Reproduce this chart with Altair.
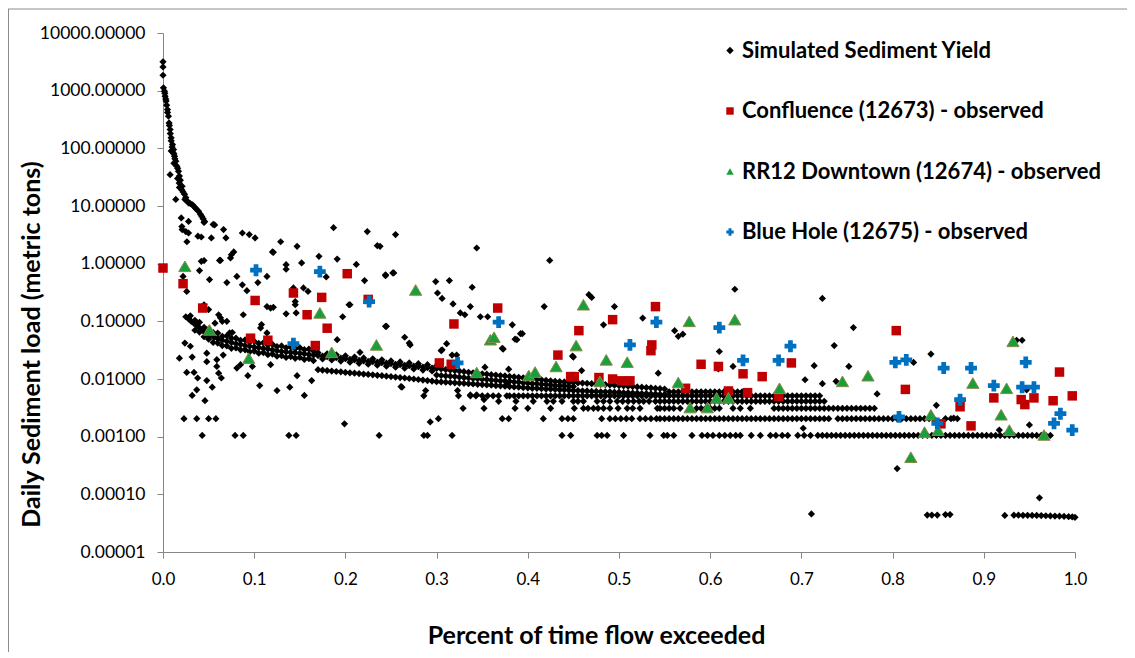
import altair as alt
import pandas as pd

# ---------------- series names / styles ----------------
series_names = ["Simulated Sediment Yield", "Confluence (12673) - observed",
                "RR12 Downtown (12674) - observed", "Blue Hole (12675) - observed"]
fill_colors = ["#000000", "#C00000", "#16A03C", "#0070C0"]
stroke_colors = [None, None, "#8A8A48", None]
shapes = ["diamond", "square", "triangle-up", "cross"]
sizes = [52, 90, 150, 140]

x_ticks = [0.0, 0.1, 0.2, 0.3, 0.4, 0.5, 0.6, 0.7, 0.8, 0.9, 1.0]
y_ticks = [0.00001, 0.0001, 0.001, 0.01, 0.1, 1, 10, 100, 1000, 10000]

# ---------------- simulated sediment yield ----------------
sim_head = [(0.000, 3170), (0.000, 2580), (0.000, 1850), (0.0005, 1120), (0.0016, 980),
            (0.002, 900), (0.0023, 800), (0.003, 720), (0.0034, 660), (0.004, 560),
            (0.0049, 470), (0.005, 420), (0.006, 360), (0.0067, 276), (0.007, 250),
            (0.0078, 212), (0.008, 180), (0.0089, 152), (0.009, 135), (0.009, 90),
            (0.010, 105), (0.0104, 116), (0.011, 85), (0.0115, 95), (0.012, 80),
            (0.012, 55), (0.0126, 73), (0.013, 66), (0.014, 60), (0.0152, 49),
            (0.016, 45), (0.016, 30), (0.017, 40), (0.0078, 35), (0.018, 33),
            (0.0178, 25), (0.018, 21), (0.019, 28), (0.0207, 19), (0.021, 22),
            (0.022, 17.5), (0.0236, 16), (0.024, 13), (0.014, 13), (0.025, 14),
            (0.026, 12.5), (0.028, 11.3), (0.030, 11), (0.0324, 10.5), (0.034, 9.8),
            (0.0353, 9.3), (0.037, 8.7), (0.039, 8.1), (0.041, 7.2), (0.0426, 6.6),
            (0.044, 6.0), (0.0456, 5.4), (0.020, 6.2), (0.028, 5.4), (0.0207, 4.4),
            (0.025, 3.6), (0.028, 3.4), (0.0262, 2.4), (0.0383, 3.0), (0.042, 2.9),
            (0.053, 2.8), (0.0566, 4.7), (0.0664, 3.9), (0.069, 2.8), (0.087, 3.4),
            (0.0946, 3.2), (0.101, 2.8), (0.12, 1.6), (0.0776, 1.6), (0.074, 1.26),
            (0.063, 1.14), (0.045, 1.13), (0.021, 3.9), (0.045, 5.2), (0.055, 4.8),
            (0.129, 2.4), (0.147, 2.0), (0.187, 4.2), (0.224, 3.6), (0.235, 2.05),
            (0.238, 2.0), (0.255, 3.2)]

sim_band = [(0.025, 0.120), (0.028, 0.110), (0.031, 0.100), (0.034, 0.092), (0.037, 0.085),
            (0.040, 0.077), (0.043, 0.070), (0.046, 0.064), (0.049, 0.059), (0.052, 0.056),
            (0.056, 0.053), (0.060, 0.050), (0.065, 0.047), (0.070, 0.045), (0.075, 0.043),
            (0.080, 0.041), (0.085, 0.040), (0.090, 0.038), (0.095, 0.037), (0.100, 0.036),
            (0.105, 0.035), (0.110, 0.034), (0.115, 0.033), (0.120, 0.032), (0.125, 0.031),
            (0.130, 0.030), (0.135, 0.0295), (0.140, 0.029), (0.145, 0.0285), (0.150, 0.028),
            (0.155, 0.0273), (0.160, 0.0267), (0.165, 0.026), (0.170, 0.0255), (0.175, 0.025),
            (0.180, 0.0245), (0.185, 0.024), (0.190, 0.0235), (0.195, 0.023), (0.200, 0.0225),
            (0.205, 0.022), (0.210, 0.0215), (0.215, 0.021), (0.220, 0.0207), (0.225, 0.0203),
            (0.230, 0.020), (0.235, 0.0196), (0.240, 0.0192), (0.245, 0.0188), (0.250, 0.0184),
            (0.255, 0.018), (0.260, 0.0177), (0.265, 0.0173), (0.270, 0.017), (0.275, 0.0167),
            (0.280, 0.0164), (0.285, 0.0161), (0.290, 0.0158), (0.295, 0.0155), (0.300, 0.0152),
            (0.305, 0.0149), (0.310, 0.0146), (0.315, 0.0143), (0.320, 0.014), (0.325, 0.0137),
            (0.330, 0.0134), (0.335, 0.0131), (0.340, 0.0128), (0.345, 0.0125), (0.350, 0.0123),
            (0.355, 0.0121), (0.360, 0.0119), (0.365, 0.0117), (0.370, 0.0115), (0.375, 0.0113),
            (0.380, 0.0111), (0.385, 0.0109), (0.390, 0.0107), (0.395, 0.0105), (0.400, 0.0103),
            (0.405, 0.0101), (0.410, 0.0099), (0.415, 0.0097), (0.420, 0.0095), (0.425, 0.0093),
            (0.430, 0.0091), (0.435, 0.0090), (0.440, 0.0089), (0.445, 0.0088), (0.450, 0.0087),
            (0.455, 0.0086), (0.460, 0.0085), (0.465, 0.0084), (0.470, 0.0083), (0.475, 0.0082),
            (0.480, 0.0081), (0.485, 0.0080), (0.490, 0.0079), (0.495, 0.0078), (0.500, 0.0077),
            (0.505, 0.0076), (0.510, 0.0075), (0.515, 0.0074), (0.520, 0.0073), (0.525, 0.0072),
            (0.530, 0.0071), (0.535, 0.0070), (0.540, 0.0069), (0.545, 0.0068), (0.550, 0.0067)]

sim_band_above = [(0.03, 0.125), (0.04, 0.096), (0.05, 0.073), (0.06, 0.0625), (0.07, 0.056),
                  (0.08, 0.051), (0.09, 0.0475), (0.10, 0.045), (0.11, 0.0425), (0.12, 0.040),
                  (0.13, 0.0375), (0.14, 0.036), (0.15, 0.035), (0.16, 0.033), (0.17, 0.0286),
                  (0.18, 0.0274), (0.19, 0.0263), (0.20, 0.0252), (0.21, 0.024), (0.22, 0.0232),
                  (0.23, 0.0224), (0.24, 0.0215), (0.25, 0.0206), (0.26, 0.0198), (0.27, 0.019),
                  (0.28, 0.0184), (0.29, 0.0177), (0.30, 0.017)]

sim_band_above2 = [(0.035, 0.104), (0.045, 0.079), (0.055, 0.064), (0.065, 0.055), (0.075, 0.051),
                   (0.085, 0.047), (0.095, 0.0435), (0.105, 0.0413), (0.115, 0.039), (0.125, 0.0366),
                   (0.135, 0.0348), (0.145, 0.0336), (0.155, 0.0322), (0.165, 0.0307)]

sim_band_below = [(0.035, 0.070), (0.045, 0.054), (0.055, 0.043), (0.065, 0.038), (0.075, 0.034),
                  (0.085, 0.032), (0.095, 0.0296), (0.105, 0.028), (0.115, 0.0264), (0.125, 0.0248),
                  (0.135, 0.0236), (0.145, 0.0228), (0.155, 0.0218), (0.165, 0.0208), (0.175, 0.0223),
                  (0.185, 0.0214), (0.195, 0.0205), (0.205, 0.0196), (0.215, 0.0187), (0.225, 0.0181),
                  (0.235, 0.0174), (0.245, 0.0167), (0.255, 0.016), (0.265, 0.0154), (0.275, 0.0149),
                  (0.285, 0.0143), (0.295, 0.0138)]

sim_band_below2 = [(0.04, 0.065), (0.05, 0.049), (0.06, 0.042), (0.07, 0.0375), (0.08, 0.0345),
                   (0.09, 0.032), (0.10, 0.0305), (0.11, 0.0287), (0.12, 0.027), (0.13, 0.0254),
                   (0.14, 0.0245), (0.15, 0.0236), (0.16, 0.0226)]

sim_mid_band = [(0.300, 0.0117), (0.305, 0.0115), (0.310, 0.0113), (0.315, 0.0112), (0.320, 0.0110),
                (0.325, 0.0108), (0.330, 0.0106), (0.335, 0.0104), (0.340, 0.0102), (0.345, 0.0101),
                (0.350, 0.0099), (0.355, 0.0098), (0.360, 0.0096), (0.365, 0.0095), (0.370, 0.0093),
                (0.375, 0.0092), (0.380, 0.0091), (0.385, 0.0089), (0.390, 0.0088), (0.395, 0.0086),
                (0.400, 0.0085), (0.405, 0.0083), (0.410, 0.0083), (0.415, 0.0081), (0.420, 0.0080),
                (0.425, 0.0079), (0.430, 0.0077), (0.435, 0.0076), (0.440, 0.0076), (0.445, 0.0075),
                (0.450, 0.0074)]

sim_lower_band = [(0.170, 0.0145), (0.175, 0.0142), (0.180, 0.0140), (0.185, 0.0137), (0.190, 0.0135),
                  (0.195, 0.0133), (0.200, 0.0130), (0.205, 0.0128), (0.210, 0.0126), (0.215, 0.0124),
                  (0.220, 0.0122), (0.225, 0.0120), (0.230, 0.0118), (0.235, 0.0116), (0.240, 0.0114),
                  (0.245, 0.0112), (0.250, 0.0110), (0.255, 0.0108), (0.260, 0.0106), (0.265, 0.0104),
                  (0.270, 0.0102), (0.275, 0.0100), (0.280, 0.0098), (0.285, 0.0096), (0.290, 0.0094),
                  (0.295, 0.0092), (0.300, 0.0090), (0.305, 0.0089), (0.310, 0.0088), (0.315, 0.0087),
                  (0.320, 0.0086), (0.325, 0.0085), (0.330, 0.0084), (0.335, 0.0083), (0.340, 0.0082),
                  (0.345, 0.0081), (0.350, 0.0080), (0.355, 0.0079), (0.360, 0.0078), (0.365, 0.0077),
                  (0.370, 0.0076), (0.375, 0.0075), (0.380, 0.0074), (0.385, 0.0073), (0.390, 0.0072),
                  (0.395, 0.0071), (0.400, 0.0070), (0.405, 0.0069), (0.410, 0.0069), (0.415, 0.0068),
                  (0.420, 0.0067), (0.425, 0.0067), (0.430, 0.0066), (0.435, 0.0065), (0.440, 0.0065),
                  (0.445, 0.0064), (0.450, 0.0063), (0.455, 0.0063), (0.460, 0.0062), (0.465, 0.0062),
                  (0.470, 0.0061), (0.475, 0.0061), (0.480, 0.0060), (0.485, 0.0060), (0.490, 0.0060),
                  (0.495, 0.0059), (0.500, 0.0059), (0.505, 0.0058), (0.510, 0.0058), (0.515, 0.0057),
                  (0.520, 0.0057), (0.525, 0.0056), (0.530, 0.0056), (0.535, 0.0055), (0.540, 0.0055),
                  (0.545, 0.0054), (0.550, 0.0054)]

# quantised rows of simulated values (x positions read off each row)
row_006_y = 0.0060
row_006_x = [0.555, 0.560, 0.565, 0.570, 0.575, 0.580, 0.585, 0.590, 0.595, 0.600,
             0.605, 0.610, 0.615, 0.620, 0.625, 0.630, 0.635, 0.640]
row_005_y = 0.0051
row_005_x = [0.286, 0.324, 0.337, 0.343, 0.350, 0.356, 0.362, 0.368, 0.377,
             0.380, 0.385, 0.390, 0.395, 0.400, 0.405, 0.410, 0.415, 0.420, 0.425,
             0.430, 0.435, 0.440, 0.445, 0.450, 0.455, 0.460, 0.465, 0.470, 0.475,
             0.480, 0.485, 0.490, 0.495, 0.500, 0.505, 0.510, 0.515, 0.520, 0.525,
             0.530, 0.535, 0.540, 0.545, 0.550, 0.555, 0.560, 0.565, 0.570, 0.575,
             0.580, 0.585, 0.590, 0.595, 0.600, 0.605, 0.610, 0.615, 0.620, 0.625,
             0.630, 0.635, 0.640, 0.645, 0.650, 0.655, 0.660, 0.665, 0.670, 0.675,
             0.680, 0.685, 0.690, 0.695, 0.700, 0.705, 0.710, 0.715, 0.720]
row_004_y = 0.0041
row_004_x = [0.368, 0.387, 0.406, 0.421, 0.428, 0.4375, 0.450, 0.455, 0.461, 0.476,
             0.483, 0.490, 0.498, 0.504, 0.510, 0.516, 0.522, 0.527, 0.533, 0.540,
             0.545, 0.550, 0.555, 0.560, 0.565, 0.570, 0.575, 0.580, 0.585, 0.590,
             0.595, 0.600, 0.605, 0.610, 0.615, 0.620, 0.625, 0.630, 0.635, 0.640,
             0.645, 0.650, 0.655, 0.660, 0.665, 0.670, 0.675, 0.680, 0.685, 0.690,
             0.695, 0.700, 0.705, 0.710, 0.715, 0.720, 0.725]
row_003_y = 0.0031
row_003_x = [0.329, 0.352, 0.386, 0.400, 0.425, 0.451, 0.461, 0.466, 0.472, 0.477,
             0.483, 0.490, 0.499, 0.509, 0.515, 0.523, 0.542, 0.545, 0.550, 0.555,
             0.560, 0.567, 0.585, 0.590, 0.595, 0.600, 0.605, 0.610, 0.625, 0.633,
             0.644, 0.670, 0.675, 0.680, 0.685, 0.690, 0.695, 0.700, 0.705, 0.710,
             0.715, 0.720, 0.725, 0.730, 0.735, 0.740, 0.745, 0.750, 0.755, 0.760,
             0.765, 0.770, 0.775, 0.780]
row_002_y = 0.00205
row_002_x = [0.023, 0.037, 0.050, 0.058, 0.302, 0.372, 0.379, 0.417, 0.4375, 0.444,
             0.450, 0.481, 0.490, 0.496, 0.502, 0.508, 0.514, 0.523, 0.529, 0.535,
             0.541, 0.545, 0.550, 0.555, 0.560, 0.565, 0.570, 0.575, 0.580, 0.585,
             0.590, 0.595, 0.600, 0.605, 0.610, 0.615, 0.620, 0.625, 0.630, 0.635,
             0.640, 0.645, 0.650, 0.655, 0.660, 0.665, 0.670, 0.675, 0.680, 0.685,
             0.690, 0.695, 0.700, 0.705, 0.710, 0.715, 0.720, 0.725, 0.730, 0.740,
             0.745, 0.750, 0.755, 0.760, 0.765, 0.770, 0.775, 0.780, 0.785, 0.790,
             0.795, 0.800, 0.805, 0.810, 0.815, 0.820, 0.825, 0.830, 0.835, 0.840,
             0.845, 0.858, 0.864, 0.871]
row_001_y = 0.00105
row_001_x = [0.043, 0.079, 0.088, 0.138, 0.146, 0.237, 0.286, 0.290, 0.317, 0.4375,
             0.447, 0.476, 0.481, 0.487, 0.505, 0.534, 0.549, 0.553, 0.560, 0.580,
             0.591, 0.597, 0.603, 0.610, 0.616, 0.622, 0.628, 0.633, 0.645, 0.655,
             0.666, 0.672, 0.679, 0.685, 0.696, 0.703, 0.710, 0.718, 0.723, 0.728,
             0.733, 0.738, 0.743, 0.748, 0.753, 0.758, 0.763, 0.768, 0.773, 0.778,
             0.783, 0.788, 0.793, 0.798, 0.803, 0.808, 0.813, 0.818, 0.823, 0.828,
             0.833, 0.838, 0.843, 0.848, 0.853, 0.858, 0.863, 0.868, 0.873, 0.878,
             0.883, 0.888, 0.893, 0.898, 0.903, 0.908, 0.913, 0.918, 0.923, 0.928,
             0.933, 0.938, 0.943, 0.948, 0.953, 0.958, 0.963, 0.968, 0.973]

sim_tail = [(0.711, 0.0000457), (0.838, 0.0000437), (0.843, 0.0000437), (0.849, 0.0000437),
            (0.858, 0.0000445), (0.863, 0.0000445), (0.923, 0.000043), (0.933, 0.0000435),
            (0.938, 0.0000435), (0.943, 0.0000433), (0.948, 0.0000432), (0.953, 0.000043),
            (0.958, 0.000043), (0.963, 0.0000428), (0.968, 0.0000425), (0.973, 0.0000422),
            (0.978, 0.000042), (0.983, 0.0000418), (0.988, 0.0000415), (0.993, 0.000041),
            (0.997, 0.0000405), (1.000, 0.00004)]

sim_scatter = [(0.022, 0.6), (0.026, 0.33), (0.042, 1.1), (0.040, 0.76), (0.051, 0.53),
               (0.062, 1.14), (0.075, 1.43), (0.070, 0.47), (0.081, 0.6), (0.087, 0.43),
               (0.092, 0.34), (0.104, 0.47), (0.114, 0.6), (0.121, 1.57), (0.135, 0.96),
               (0.135, 0.8), (0.152, 1.03), (0.143, 0.38), (0.154, 0.38), (0.159, 0.33),
               (0.171, 1.34), (0.179, 0.59), (0.191, 1.2), (0.212, 0.97), (0.221, 0.51),
               (0.244, 0.64), (0.252, 0.69), (0.045, 0.194), (0.050, 0.16), (0.061, 0.13),
               (0.065, 0.10), (0.070, 0.10), (0.076, 0.064), (0.088, 0.13), (0.107, 0.077),
               (0.108, 0.088), (0.114, 0.18), (0.118, 0.17), (0.121, 0.175), (0.145, 0.22),
               (0.205, 0.194), (0.245, 0.082), (0.028, 0.114), (0.057, 0.093), (0.063, 0.115),
               (0.073, 0.063), (0.114, 0.063), (0.135, 0.135), (0.146, 0.14), (0.145, 0.194),
               (0.197, 0.12), (0.204, 0.194), (0.265, 0.053), (0.270, 0.042), (0.191, 0.048),
               (0.018, 0.023), (0.024, 0.042), (0.030, 0.037), (0.032, 0.024), (0.026, 0.013),
               (0.034, 0.013), (0.038, 0.0104), (0.037, 0.0065), (0.032, 0.0052), (0.046, 0.0042),
               (0.048, 0.0094), (0.054, 0.0072), (0.048, 0.020), (0.048, 0.028), (0.059, 0.0216),
               (0.059, 0.0165), (0.061, 0.0126), (0.064, 0.0104), (0.066, 0.026), (0.081, 0.0155),
               (0.085, 0.0177), (0.093, 0.0114), (0.098, 0.0165), (0.118, 0.0177), (0.125, 0.0063),
               (0.139, 0.0072), (0.147, 0.0114), (0.155, 0.0052), (0.163, 0.0094), (0.216, 0.029),
               (0.262, 0.0072), (0.199, 0.00167), (0.106, 0.0077),
               (0.244, 0.62), (0.253, 0.69), (0.244, 0.082), (0.344, 1.87), (0.299, 0.49),
               (0.314, 0.51), (0.301, 0.31), (0.306, 0.25), (0.339, 0.39), (0.318, 0.20),
               (0.326, 0.14), (0.331, 0.13), (0.337, 0.18), (0.348, 0.12), (0.356, 0.12),
               (0.383, 0.087), (0.392, 0.061), (0.386, 0.049), (0.271, 0.039), (0.305, 0.031),
               (0.311, 0.041), (0.373, 0.033), (0.418, 0.18), (0.424, 1.14), (0.449, 0.025),
               (0.459, 0.014), (0.467, 0.29), (0.470, 0.26), (0.495, 0.18), (0.483, 0.087),
               (0.526, 0.114), (0.543, 0.0126), (0.561, 0.069), (0.565, 0.055), (0.570, 0.06),
               (0.610, 0.030), (0.609, 0.0149), (0.625, 0.0165), (0.627, 0.36),
               (0.306, 0.032), (0.317, 0.026), (0.322, 0.026), (0.372, 0.034), (0.388, 0.048),
               (0.394, 0.061), (0.353, 0.016), (0.379, 0.0148), (0.450, 0.024), (0.288, 0.0063),
               (0.293, 0.0018), (0.261, 0.0074), (0.323, 0.0063), (0.337, 0.0053), (0.344, 0.0053),
               (0.352, 0.0044), (0.377, 0.0080),
               (0.723, 0.25), (0.757, 0.078), (0.736, 0.038), (0.714, 0.017), (0.752, 0.0165),
               (0.704, 0.0097), (0.723, 0.0083), (0.738, 0.0091), (0.783, 0.0055), (0.842, 0.027),
               (0.823, 0.0194), (0.848, 0.0035), (0.867, 0.0021), (0.936, 0.047), (0.942, 0.047),
               (0.947, 0.0065), (0.950, 0.0016), (0.917, 0.0013), (0.702, 0.0014), (0.805, 0.00028),
               (0.961, 0.000087)]

# ---------------- observed series ----------------
confluence = [(0.000, 0.84), (0.022, 0.45), (0.0435, 0.17), (0.101, 0.23), (0.096, 0.051),
              (0.115, 0.047), (0.143, 0.31), (0.158, 0.13), (0.174, 0.26), (0.180, 0.076),
              (0.167, 0.038), (0.202, 0.67), (0.225, 0.24), (0.319, 0.090), (0.303, 0.019),
              (0.316, 0.018), (0.367, 0.17), (0.456, 0.069), (0.433, 0.026), (0.447, 0.011),
              (0.451, 0.011), (0.478, 0.0106), (0.493, 0.107), (0.493, 0.0100), (0.503, 0.0093),
              (0.512, 0.0093), (0.540, 0.18), (0.536, 0.039), (0.535, 0.031), (0.590, 0.018),
              (0.609, 0.0165), (0.636, 0.0123), (0.620, 0.0062), (0.641, 0.0058), (0.657, 0.011),
              (0.573, 0.0069), (0.675, 0.005), (0.689, 0.019), (0.804, 0.069), (0.814, 0.0066),
              (0.853, 0.00167), (0.874, 0.0033), (0.886, 0.00154), (0.911, 0.0047), (0.941, 0.0044),
              (0.945, 0.0036), (0.955, 0.0047), (0.983, 0.0132), (0.976, 0.0042), (0.997, 0.0051)]

rr12 = [(0.024, 0.9), (0.051, 0.071), (0.094, 0.023), (0.172, 0.14), (0.185, 0.029),
        (0.234, 0.039), (0.277, 0.35), (0.344, 0.013), (0.359, 0.048), (0.363, 0.053),
        (0.401, 0.0115), (0.408, 0.0132), (0.431, 0.0165), (0.453, 0.038), (0.461, 0.194),
        (0.479, 0.0091), (0.486, 0.0215), (0.509, 0.0196), (0.565, 0.0087), (0.577, 0.10),
        (0.578, 0.0032), (0.597, 0.0032), (0.607, 0.0047), (0.620, 0.0047), (0.627, 0.107),
        (0.676, 0.0069), (0.745, 0.0091), (0.773, 0.0114), (0.842, 0.0024), (0.835, 0.0012),
        (0.850, 0.0013), (0.820, 0.00044), (0.888, 0.0085), (0.925, 0.0069), (0.919, 0.0024),
        (0.928, 0.0013), (0.932, 0.045), (0.966, 0.00107)]

blue_hole = [(0.102, 0.77), (0.172, 0.73), (0.143, 0.041), (0.226, 0.22), (0.368, 0.097),
             (0.323, 0.019), (0.512, 0.039), (0.541, 0.097), (0.610, 0.078), (0.636, 0.021),
             (0.675, 0.021), (0.688, 0.037), (0.803, 0.0194), (0.815, 0.0215), (0.856, 0.0155),
             (0.886, 0.0155), (0.807, 0.0022), (0.849, 0.0017), (0.874, 0.0044), (0.911, 0.0077),
             (0.942, 0.0072), (0.955, 0.0072), (0.946, 0.0194), (0.977, 0.0017), (0.984, 0.0025),
             (0.997, 0.0013)]

# ---------------- build tables ----------------
def pairs_rows(pairs, name):
    return [{"x": px, "y": py, "series": name} for px, py in pairs]

def line_rows(xs, yv, name):
    return [{"x": px, "y": yv, "series": name} for px in xs]

S0, S1, S2, S3 = series_names
sim_rows = (line_rows(row_001_x, row_001_y, S0) + line_rows(row_002_x, row_002_y, S0)
            + line_rows(row_003_x, row_003_y, S0) + line_rows(row_004_x, row_004_y, S0)
            + line_rows(row_005_x, row_005_y, S0) + line_rows(row_006_x, row_006_y, S0)
            + pairs_rows(sim_lower_band, S0) + pairs_rows(sim_mid_band, S0)
            + pairs_rows(sim_band_below, S0) + pairs_rows(sim_band_below2, S0)
            + pairs_rows(sim_band_above, S0) + pairs_rows(sim_band_above2, S0)
            + pairs_rows(sim_band, S0) + pairs_rows(sim_head, S0)
            + pairs_rows(sim_scatter, S0) + pairs_rows(sim_tail, S0))
tables = [pd.DataFrame(sim_rows), pd.DataFrame(pairs_rows(confluence, S1)),
          pd.DataFrame(pairs_rows(rr12, S2)), pd.DataFrame(pairs_rows(blue_hole, S3))]

FONT = "Lato"
legend = alt.Legend(title=None, orient="none", legendX=556, legendY=6.5, direction="vertical",
                    labelFont=FONT, labelFontSize=22, labelFontWeight="bold", labelColor="#000000",
                    symbolSize=55, symbolStrokeWidth=0, rowPadding=38.5, labelOffset=1,
                    padding=0, labelLimit=0)

x_enc = alt.X("x:Q", scale=alt.Scale(domain=[0, 1], nice=False, zero=False),
              axis=alt.Axis(values=x_ticks, format=".1f", title="Percent of time flow exceeded",
                            grid=False, domainColor="#868686", tickColor="#868686", tickSize=6,
                            labelFlush=False, labelOverlap=False,
                            labelFont=FONT, labelFontSize=17, labelColor="#000000", labelPadding=13,
                            titleFont=FONT, titleFontSize=25, titleFontWeight="bold", titleColor="#000000",
                            titleX=433, titleY=83, titleBaseline="middle", titleAnchor="middle"))
y_enc = alt.Y("y:Q", scale=alt.Scale(type="log", domain=[0.00001, 10000], nice=False),
              axis=alt.Axis(values=y_ticks, format=".5f", title="Daily Sediment load (metric tons)",
                            grid=False, domainColor="#868686", tickColor="#868686", tickSize=6,
                            labelFlush=False, labelOverlap=False,
                            labelFont=FONT, labelFontSize=17.5, labelColor="#000000", labelPadding=12,
                            titleFont=FONT, titleFontSize=25, titleFontWeight="bold", titleColor="#000000",
                            titleX=-132, titleY=311, titleAngle=270, titleAlign="center",
                            titleBaseline="middle"))
color_enc = alt.Color("series:N", scale=alt.Scale(domain=series_names, range=fill_colors), legend=legend)
shape_enc = alt.Shape("series:N", scale=alt.Scale(domain=series_names, range=shapes), legend=legend)

layers = []
for tbl, sz, stc in zip(tables, sizes, stroke_colors):
    if stc is None:
        mk = alt.Chart(tbl).mark_point(filled=True, opacity=1, size=sz, strokeWidth=0)
    else:
        mk = alt.Chart(tbl).mark_point(filled=True, opacity=1, size=sz, stroke=stc, strokeWidth=1)
    layers.append(mk.encode(x=x_enc, y=y_enc, color=color_enc, shape=shape_enc))

frame_data = alt.Data(values=[{"k": 1}])
frame_left = alt.Chart(frame_data).mark_rule(color="#8C8C8C", strokeWidth=1).encode(
    x=alt.value(-154.5), y=alt.value(-24), y2=alt.value(640))
frame_top = alt.Chart(frame_data).mark_rule(color="#8C8C8C", strokeWidth=1).encode(
    x=alt.value(-155), x2=alt.value(990), y=alt.value(-24))

chart = alt.layer(frame_left, frame_top, *layers).properties(
    width=912, height=519,
    autosize=alt.AutoSizeParams(type="none"),
    padding={"left": 155, "top": 25, "right": 52, "bottom": 100},
).configure_view(stroke=None)

chart.save("out.html", embed_options={"renderer": "svg", "actions": False})
